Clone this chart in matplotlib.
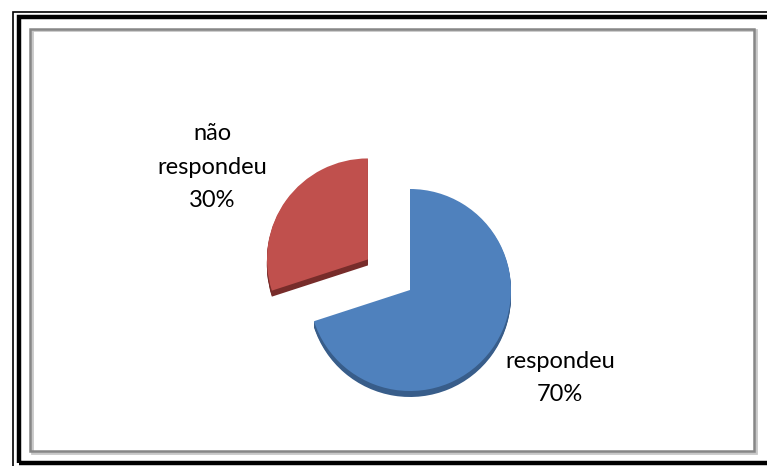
import matplotlib
matplotlib.use("Agg")
import matplotlib.pyplot as plt
from matplotlib.patches import Rectangle

labels = ["respondeu", "não\nrespondeu"]
values = [70, 30]
top_colors = ["#4F81BD", "#C0504D"]
side_colors = ["#385D8A", "#772C2A"]

W, H = 767, 466
fig = plt.figure(figsize=(W / 100, H / 100), dpi=100)
ax = fig.add_axes([0, 0, 1, 1])


def yy(y):
    return H - y


# frame: thin + thick black, inner grey with shadow
ax.add_patch(Rectangle((12.5, yy(469)), 770, 457, fill=False, ec="black", lw=1.2))
ax.add_patch(Rectangle((18.5, yy(462.5)), 770, 446, fill=False, ec="black", lw=3.2))
ax.add_patch(Rectangle((31.5, yy(452.5)), 724, 423, fill=False, ec="#c8c8c8", lw=2))
ax.add_patch(Rectangle((30, yy(451)), 724, 422, fill=False, ec="#878787", lw=1.8))

# pie in pixel-like data units; explode is in data units, not radius fraction
cx, cy, r = 410, yy(290), 101
explode = [0, 52]
depth = 6
for d in range(depth, 0, -1):
    ax.pie(values, colors=side_colors, startangle=90, counterclock=False,
           explode=explode, center=(cx, cy - d), radius=r, frame=True,
           wedgeprops=dict(linewidth=0))
ax.pie(values, colors=top_colors, startangle=90, counterclock=False,
       explode=explode, center=(cx, cy), radius=r, frame=True,
       wedgeprops=dict(linewidth=0))
ax.set_xlim(0, W)
ax.set_ylim(0, H)
ax.set_aspect("equal")
ax.axis("off")

font = dict(family=["Lato", "DejaVu Sans"], fontsize=17, color="black",
            ha="center", va="center", linespacing=1.75)
ax.text(212, yy(167), f"{labels[1]}\n{values[1]}%", **font)
ax.text(560, yy(378), f"{labels[0]}\n{values[0]}%", **font)

fig.savefig("out.png", dpi=100)
